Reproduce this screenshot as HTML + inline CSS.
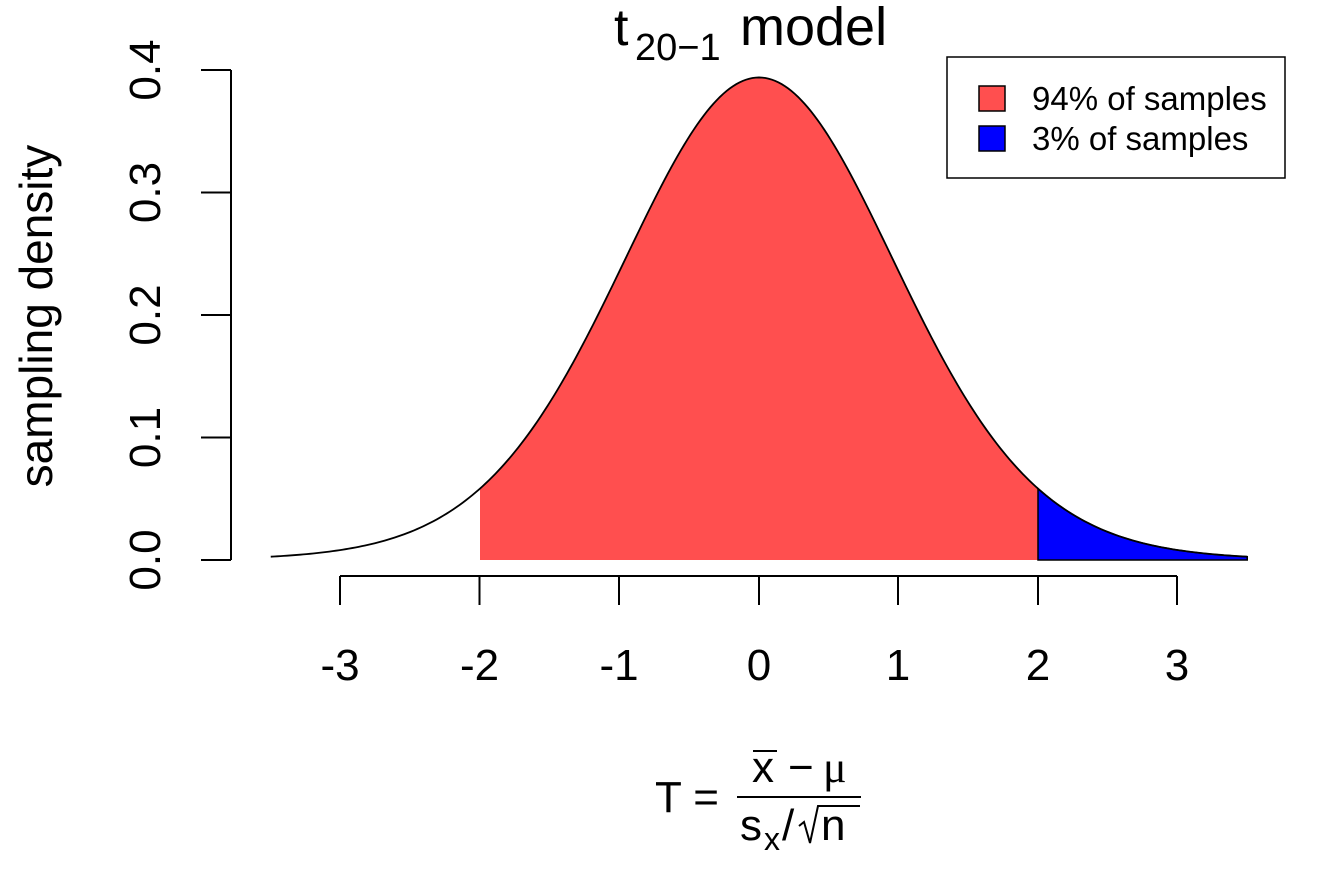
<!DOCTYPE html>
<html><head><style>body{margin:0;background:#fff}</style></head><body>
<svg id="s" width="1344" height="864" xmlns="http://www.w3.org/2000/svg" font-family="Liberation Sans, sans-serif">
<g id="g"></g>
<line x1="231" y1="70" x2="231" y2="560" stroke="#000" stroke-width="2"/>
<g stroke="#000" stroke-width="2">
<line x1="201" y1="560" x2="231" y2="560"/><line x1="201" y1="437.5" x2="231" y2="437.5"/><line x1="201" y1="315" x2="231" y2="315"/><line x1="201" y1="192.5" x2="231" y2="192.5"/><line x1="201" y1="70" x2="231" y2="70"/>
<line x1="340" y1="576" x2="1177" y2="576"/>
<line x1="340" y1="576" x2="340" y2="605"/><line x1="479.5" y1="576" x2="479.5" y2="605"/><line x1="619" y1="576" x2="619" y2="605"/><line x1="759" y1="576" x2="759" y2="605"/><line x1="898" y1="576" x2="898" y2="605"/><line x1="1038" y1="576" x2="1038" y2="605"/><line x1="1177" y1="576" x2="1177" y2="605"/>
</g>
<g font-size="44" text-anchor="middle">
<text x="340" y="680">-3</text><text x="479.5" y="680">-2</text><text x="619" y="680">-1</text><text x="759" y="680">0</text><text x="898" y="680">1</text><text x="1038" y="680">2</text><text x="1177" y="680">3</text>
<text transform="translate(160,560) rotate(-90)">0.0</text>
<text transform="translate(160,437.5) rotate(-90)">0.1</text>
<text transform="translate(160,315) rotate(-90)">0.2</text>
<text transform="translate(160,192.5) rotate(-90)">0.3</text>
<text transform="translate(160,70) rotate(-90)">0.4</text>
<text transform="translate(52,316) rotate(-90)" font-size="46">sampling density</text>
</g>
<text x="614" y="45" font-size="52">t</text>
<text x="635" y="60" font-size="38">20−1</text>
<text x="740" y="45" font-size="54">model</text>
<rect x="947" y="57" width="338" height="121" fill="#fff" stroke="#000" stroke-width="1.5"/>
<rect x="979" y="86" width="26" height="25" fill="#FF4F4F" stroke="#000" stroke-width="1.5"/>
<rect x="979" y="126" width="26" height="25" fill="#0000FF" stroke="#000" stroke-width="1.5"/>
<text x="1032" y="110" font-size="33">94% of samples</text>
<text x="1032" y="150" font-size="33">3% of samples</text>
<g font-size="44">
<text x="655" y="812">T =</text>
<text x="752" y="782">x</text>
<line x1="753" y1="751" x2="777" y2="751" stroke="#000" stroke-width="2"/>
<text x="788" y="782">−</text>
<text x="823" y="782" font-family="Liberation Serif, serif">μ</text>
<line x1="737" y1="797" x2="861" y2="797" stroke="#000" stroke-width="2"/>
<text x="740" y="840">s</text>
<text x="764" y="850" font-size="32">x</text>
<text x="782" y="840">/</text>
<path d="M799 826 L804 822 L810 843 L818 806 L860 806" fill="none" stroke="#000" stroke-width="2"/>
<text x="821" y="840">n</text>
</g>
</svg>
<script>
var c=0.39391,X=function(t){return 759+139.5*t},Y=function(v){return 560-1225*v},f=function(t){return c*Math.pow(1+t*t/19,-10)};
function pts(a,b){var s=[];for(var i=0;i<=300;i++){var t=a+(b-a)*i/300;s.push(X(t).toFixed(2)+","+Y(f(t)).toFixed(2));}return s;}
var g=document.getElementById('g'),ns="http://www.w3.org/2000/svg";
function add(tag,at){var e=document.createElementNS(ns,tag);for(var k in at)e.setAttribute(k,at[k]);g.appendChild(e);}
add('polygon',{points:X(-2)+",560 "+pts(-2,2).join(" ")+" "+X(2)+",560",fill:"#FF4F4F"});
add('polygon',{points:X(2)+",560 "+pts(2,3.5).join(" ")+" "+X(3.5)+",560",fill:"#0000FF",stroke:"#000","stroke-width":1.5});
add('polyline',{points:pts(-3.5,3.5).join(" "),fill:"none",stroke:"#000","stroke-width":1.8});
</script>
</body></html>
